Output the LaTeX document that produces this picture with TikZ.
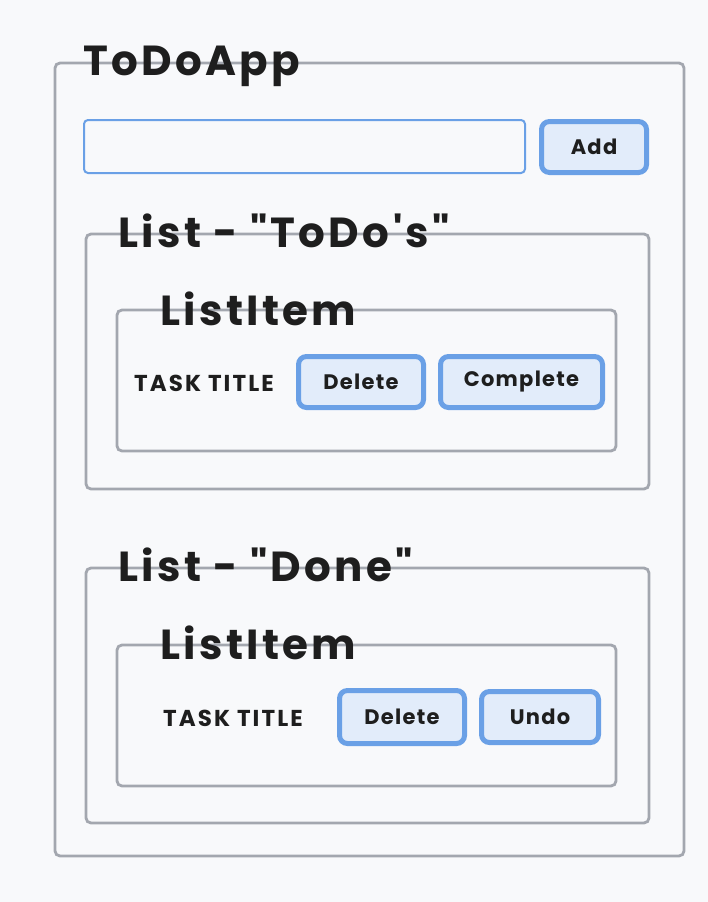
\documentclass[tikz,border=0pt]{standalone}
\usepackage{fontspec}
\setmainfont{Poppins}[Ligatures=TeXOff]
\usepackage{xcolor}
\usetikzlibrary{positioning}
\definecolor{pagebg}{HTML}{F8F9FB}
\definecolor{framegray}{HTML}{A3A7AF}
\definecolor{btnblue}{HTML}{6AA0E6}
\definecolor{btnfill}{HTML}{E2ECFA}
\definecolor{inktext}{HTML}{1E1E1E}

\tikzset{
  frame/.style={draw=framegray, line width=2.8pt, rounded corners=5pt},
  field/.style={draw=btnblue, line width=2pt, rounded corners=4pt},
  btn/.style={draw=btnblue, fill=btnfill, line width=5pt, rounded corners=8pt,
    text=inktext, font=\fontsize{21}{24}\selectfont\bfseries\addfontfeatures{LetterSpace=6}},
  heading/.style={anchor=base west, inner sep=0pt, text=inktext,
    font=\fontsize{42}{46}\selectfont\bfseries\addfontfeatures{LetterSpace=8}},
  tasklabel/.style={anchor=base west, inner sep=0pt, text=inktext,
    font=\fontsize{23}{26}\selectfont\bfseries\addfontfeatures{LetterSpace=9}}
}

\begin{document}
\begin{tikzpicture}[x=1pt, y=-1pt]
    \fill[pagebg] (0,0) rectangle (708,902);
    \useasboundingbox (0,0) rectangle (708,902);

    % outer app frame
    \node[frame, minimum width=629pt, minimum height=793pt] (app) at (369.5,459.5) {};
    \node[heading] (apptitle) at (83,75) {ToDoApp};
    \node[field, minimum width=441pt, minimum height=53pt] (input) at (304.5,146.5) {};
    \node[btn, minimum width=105pt, minimum height=51pt] (add) at (594,147) {Add};

    % todo list
    \node[frame, minimum width=563pt, minimum height=255pt] (todolist) at (367.5,361.5) {};
    \node[heading] (todotitle) at (118,247) {List - "ToDo's"};
    \node[frame, minimum width=499pt, minimum height=141pt] (todoitem) at (366.5,380.5) {};
    \node[heading] (todoitemtitle) at (160,325) {ListItem};
    \node[tasklabel] (todotask) at (134,391) {TASK TITLE};
    \node[btn, minimum width=125pt, minimum height=51pt] (tododelete) at (361,382) {Delete};
    \node[btn, minimum width=162pt, minimum height=51pt] (complete) at (521.5,382) {Complete};

    % done list
    \node[frame, minimum width=563pt, minimum height=255pt] (donelist) at (367.5,695.5) {};
    \node[heading] (donetitle) at (118,581) {List - "Done"};
    \node[frame, minimum width=499pt, minimum height=141pt] (doneitem) at (366.5,715.5) {};
    \node[heading] (doneitemtitle) at (160,659) {ListItem};
    \node[tasklabel] (donetask) at (163,726) {TASK TITLE};
    \node[btn, minimum width=125pt, minimum height=53pt] (donedelete) at (402,717) {Delete};
    \node[btn, minimum width=117pt, minimum height=51pt] (undo) at (540,717) {Undo};
\end{tikzpicture}
\end{document}
